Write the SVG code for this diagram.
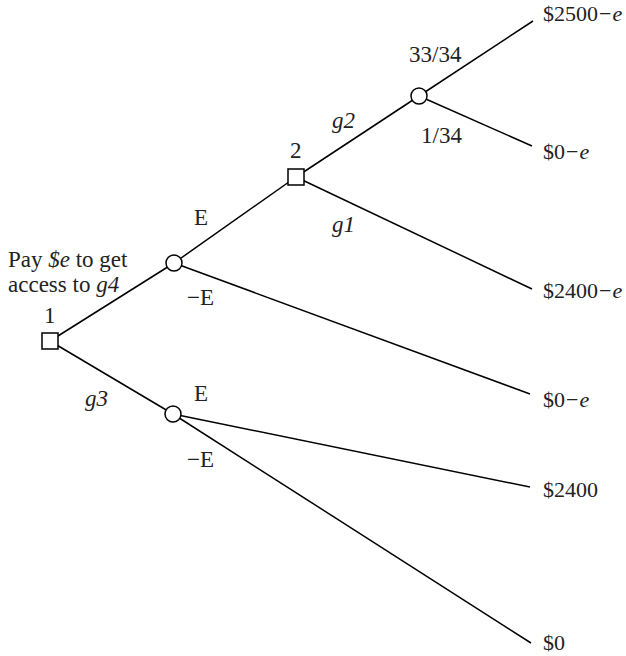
<svg xmlns="http://www.w3.org/2000/svg" width="626" height="656" viewBox="0 0 626 656">
<style>
.e{stroke:#000;stroke-width:1.5;fill:none}
.n{stroke:#000;stroke-width:1.5;fill:#fff}
text{font-family:"Liberation Serif","Times New Roman",serif;font-size:23px;fill:#222}
.p{font-size:22px}
.i{font-style:italic}
</style>
<rect width="626" height="656" fill="#fff"/>
<g id="connectors">
<line class="e" x1="50" y1="341" x2="174" y2="263"/>
<line class="e" x1="50" y1="341" x2="173" y2="414"/>
<line class="e" x1="174" y1="263" x2="296" y2="177"/>
<line class="e" x1="174" y1="263" x2="530" y2="394"/>
<line class="e" x1="296" y1="177" x2="419" y2="96"/>
<line class="e" x1="296" y1="177" x2="532" y2="289"/>
<line class="e" x1="419" y1="96" x2="533" y2="21"/>
<line class="e" x1="419" y1="96" x2="532" y2="146"/>
<line class="e" x1="173" y1="414" x2="530" y2="487"/>
<line class="e" x1="173" y1="414" x2="531" y2="643"/>
</g>
<g id="node1"><rect class="n" x="42" y="333" width="16" height="16"/><text x="44" y="323">1</text></g>
<g id="chanceA"><circle class="n" cx="174" cy="263" r="8"/></g>
<g id="node2"><rect class="n" x="288" y="169" width="16" height="16"/><text x="290" y="158">2</text></g>
<g id="chanceB"><circle class="n" cx="419" cy="96" r="8"/></g>
<g id="chanceC"><circle class="n" cx="173" cy="414" r="8"/></g>
<g id="labels">
<text x="8" y="267">Pay <tspan class="i">$e</tspan> to get</text>
<text x="8" y="292">access to <tspan class="i">g4</tspan></text>
<text x="194" y="225">E</text>
<text x="187" y="305">−E</text>
<text class="i" x="332" y="128">g2</text>
<text class="i" x="332" y="232">g1</text>
<text x="409" y="62">33/34</text>
<text x="421" y="143">1/34</text>
<text class="i" x="85" y="406">g3</text>
<text x="194" y="401">E</text>
<text x="187" y="467">−E</text>
</g>
<g id="payoffs">
<text class="p" x="543" y="21">$2500<tspan dx="1">−</tspan><tspan dx="1" class="i">e</tspan></text>
<text class="p" x="543" y="159">$0<tspan dx="1">−</tspan><tspan dx="1" class="i">e</tspan></text>
<text class="p" x="543" y="298">$2400<tspan dx="1">−</tspan><tspan dx="1" class="i">e</tspan></text>
<text class="p" x="543" y="407">$0<tspan dx="1">−</tspan><tspan dx="1" class="i">e</tspan></text>
<text class="p" x="543" y="497">$2400</text>
<text class="p" x="543" y="650">$0</text>
</g>
</svg>
